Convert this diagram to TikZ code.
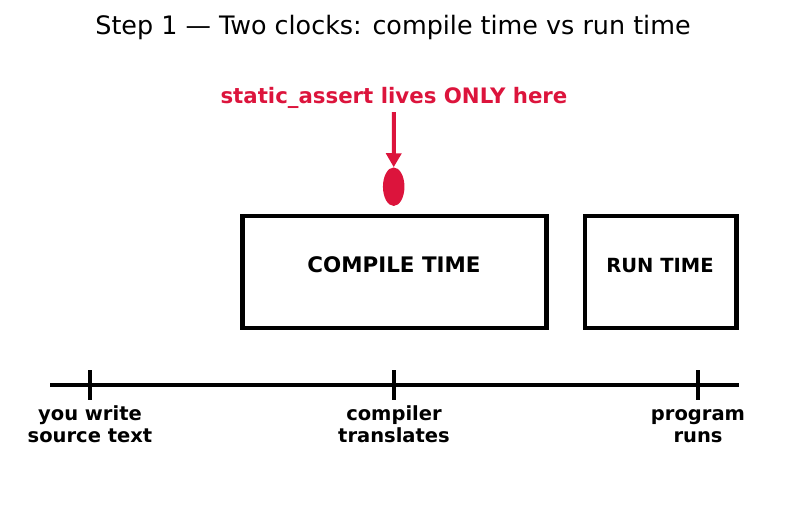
\documentclass[tikz,border=0pt]{standalone}
\usepackage{fontspec}
\setmainfont{DejaVu Sans}
\usepackage{xcolor}
\usetikzlibrary{arrows.meta,positioning,shapes.geometric}
\definecolor{crimson}{RGB}{220,20,60}

\begin{document}
\begin{tikzpicture}[x=1pt,y=-1pt,
    clock/.style={draw,line width=4.6pt,inner sep=0pt,minimum height=112pt},
    clocktext/.style={anchor=base,inner sep=0pt,font=\bfseries\fontsize{#1}{#1}\selectfont},
    tick/.style={line width=4.6pt},
    ticklabel/.style={anchor=north,inner sep=0pt,align=center,
                      font=\bfseries\fontsize{19.5}{22.5}\selectfont}]
    \useasboundingbox (0,0) rectangle (787,512);
    \node[anchor=base,inner sep=0pt,font=\fontsize{25.4}{30}\selectfont] (title) at (393,34)
      {Step 1 — Two clocks: compile time vs run time};
    \node[anchor=base,inner sep=0pt,text=crimson,font=\bfseries\fontsize{21.3}{25}\selectfont] (note) at (394,103)
      {static\_assert lives ONLY here};
    \node[ellipse,fill=crimson,inner sep=0pt,minimum width=21.5pt,minimum height=38.5pt] (dot) at (393.7,186.7) {};
    \node[clock,minimum width=304pt] (compile) at (394.5,272) {};
    \node[clock,minimum width=151.5pt] (run) at (660.7,272) {};
    \node[clocktext=21.4] (compile-txt) at (394,272) {COMPILE TIME};
    \node[clocktext=19.5] (run-txt) at (660,272) {RUN TIME};
    \draw[crimson,line width=4pt,shorten <=4pt,-{Triangle[length=14pt,width=15pt]}] (note.south) -- (dot.north);
    % time axis
    \coordinate (t0) at (50,385);
    \coordinate (t1) at (739,385);
    \draw[tick] (t0) -- (t1);
    \foreach \name/\x/\one/\two in {write/90/you write/source text,
                                   translate/394/compiler/translates,
                                   runs/698/program/runs} {
      \coordinate (\name-top) at (\x,370);
      \coordinate (\name-bot) at (\x,400);
      \draw[tick] (\name-top) -- (\name-bot);
      \node[ticklabel] (\name-lbl) at ([yshift=-4.3pt]\name-bot) {\strut\one\\\strut\two};
    }
  \end{tikzpicture}
\end{document}
